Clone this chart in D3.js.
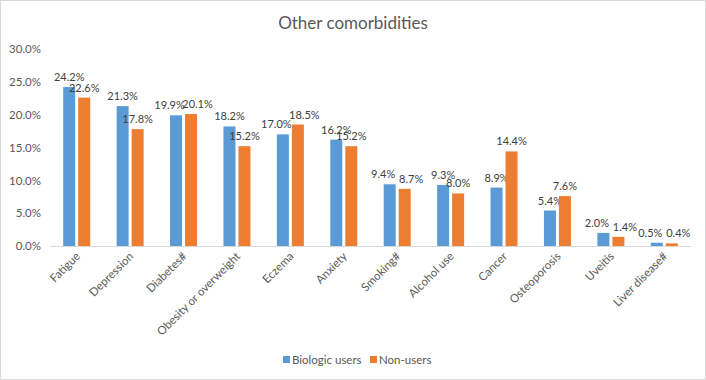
<!DOCTYPE html>
<html><head><meta charset="utf-8">
<script src="https://cdn.jsdelivr.net/npm/d3@7"></script>
<style>body{margin:0;background:#fff}svg{display:block}text{font-family:Lato,"Liberation Sans",sans-serif}</style>
</head><body><svg id="c" width="706" height="380"></svg>
<script>
const categories=["Fatigue","Depression","Diabetes#","Obesity or overweight","Eczema","Anxiety","Smoking#","Alcohol use","Cancer","Osteoporosis","Uveitis","Liver disease#"];
const biologic=[24.2,21.3,19.9,18.2,17.0,16.2,9.4,9.3,8.9,5.4,2.0,0.5];
const nonUsers=[22.6,17.8,20.1,15.2,18.5,15.2,8.7,8.0,14.4,7.6,1.4,0.4];
const seriesNames=["Biologic users","Non-users"];
const colors=["#5B9BD5","#ED7D31"];
const yTicks=[0,5,10,15,20,25,30];

const svg=d3.select("#c");
svg.append("rect").attr("x",0.5).attr("y",0.5).attr("width",705).attr("height",379).attr("fill","#fff").attr("stroke","#d9d9d9");
const x=d3.scaleBand().domain(categories).range([50,691]);
const y=d3.scaleLinear().domain([0,30]).range([246,49]);
const bw=12, gap=3;
svg.append("text").attr("x",353).attr("y",29).attr("text-anchor","middle").attr("font-size",17).attr("fill","#595959").text("Other comorbidities");
const ya=svg.append("g").attr("transform","translate(50,0)").call(d3.axisLeft(y).tickValues(yTicks).tickSize(0).tickPadding(9).tickFormat(d=>d.toFixed(1)+"%"));
ya.select(".domain").remove();
ya.selectAll("text").attr("font-size",11.5).attr("fill","#595959").style("font-family","Lato,'Liberation Sans',sans-serif");
svg.append("line").attr("x1",50).attr("x2",691).attr("y1",246.5).attr("y2",246.5).attr("stroke","#d9d9d9");
const all=[biologic,nonUsers];
function separate(i){
  const dy=y(nonUsers[i])-y(biologic[i]);
  return Math.abs(dy)<6 || (dy<0 && dy>-11);
}
all.forEach((vals,s)=>{
  const g=svg.append("g");
  const xo=c=>x(c)+x.bandwidth()/2+(s===0?-(bw+gap/2):gap/2);
  g.selectAll("rect").data(categories).join("rect")
    .attr("x",c=>xo(c)).attr("width",bw)
    .attr("y",(c,i)=>y(vals[i])).attr("height",(c,i)=>y(0)-y(vals[i])).attr("fill",colors[s]);
  g.selectAll("text").data(categories).join("text")
    .attr("x",(c,i)=>{
      if(separate(i)){const cx=x(c)+x.bandwidth()/2;return s===0?cx-14:cx+14;}
      return xo(c)+bw/2;})
    .attr("y",(c,i)=>y(vals[i])-6)
    .attr("text-anchor","middle").attr("font-size",11).attr("fill","#404040")
    .text((c,i)=>vals[i].toFixed(1)+"%");
});
svg.append("g").selectAll("text").data(categories).join("text")
  .attr("transform",c=>`translate(${x(c)+x.bandwidth()/2+4},${257}) rotate(-45)`)
  .attr("text-anchor","end").attr("font-size",11.5).attr("fill","#595959").text(c=>c);
const leg=svg.append("g");
const lx=[283,370];
seriesNames.forEach((n,i)=>{
  leg.append("rect").attr("x",lx[i]).attr("y",356).attr("width",7).attr("height",7).attr("fill",colors[i]);
  leg.append("text").attr("x",lx[i]+9).attr("y",364).attr("font-size",11.5).attr("fill","#595959").text(n);
});
</script></body></html>
